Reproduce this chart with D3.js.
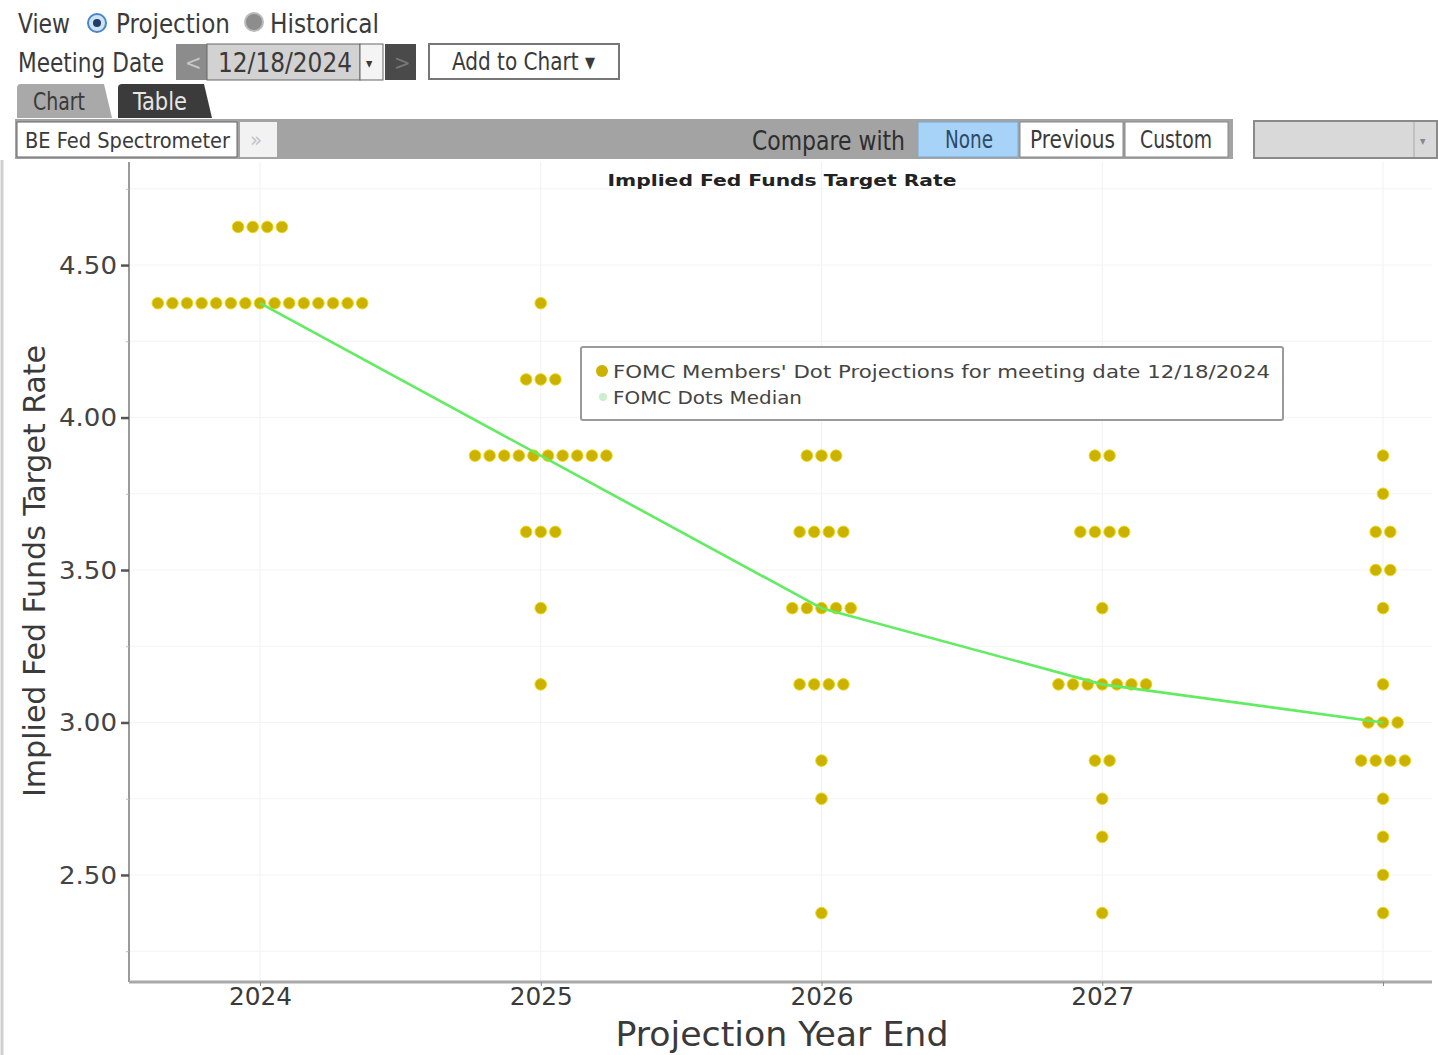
<!DOCTYPE html>
<html><head><meta charset="utf-8">
<script src="https://cdn.jsdelivr.net/npm/d3@7"></script>
<style>
html,body{margin:0;padding:0;background:#fff;}
svg{display:block;}
text{font-family:"DejaVu Sans Condensed","DejaVu Sans",sans-serif;}
</style></head>
<body>
<svg id="c" width="1438" height="1055"></svg>
<script>
// ---------- data ----------
const categories = ["2024", "2025", "2026", "2027", "Longer run"];
const tickLabels = ["2024", "2025", "2026", "2027", ""];
// [rate, number of participants]
const dots2024 = [[4.625, 4], [4.375, 15]];
const dots2025 = [[4.375, 1], [4.125, 3], [3.875, 10], [3.625, 3], [3.375, 1], [3.125, 1]];
const dots2026 = [[3.875, 3], [3.625, 4], [3.375, 5], [3.125, 4], [2.875, 1], [2.75, 1], [2.375, 1]];
const dots2027 = [[3.875, 2], [3.625, 4], [3.375, 1], [3.125, 7], [2.875, 2], [2.75, 1], [2.625, 1], [2.375, 1]];
const dotsLonger = [[3.875, 1], [3.75, 1], [3.625, 2], [3.5, 2], [3.375, 1], [3.125, 1], [3.0, 3], [2.875, 4], [2.75, 1], [2.625, 1], [2.5, 1], [2.375, 1]];
const medians = [4.375, 3.875, 3.375, 3.125, 3.0];
const yTicks = [2.5, 3.0, 3.5, 4.0, 4.5];
const yMinorTicks = [2.25, 2.75, 3.25, 3.75, 4.25, 4.75];
const chartTitle = "Implied Fed Funds Target Rate";
const yTitle = "Implied Fed Funds Target Rate";
const xTitle = "Projection Year End";
const legendLabels = ["FOMC Members' Dot Projections for meeting date 12/18/2024", "FOMC Dots Median"];
const meetingDate = "12/18/2024";

const dotSets = [dots2024, dots2025, dots2026, dots2027, dotsLonger];

// ---------- setup ----------
const svg = d3.select("#c");
const W = 1438, H = 1055;
const plot = {left: 129, right: 1432, top: 162, bottom: 982};
const x = d3.scalePoint().domain(categories).range([260, 1383]);
const y = d3.scaleLinear().domain([2.149, 4.838]).range([plot.bottom, plot.top]);
const textCol = "#3a3a3a";

function txt(g, s, px, py, size, len, opts = {}) {
  const t = g.append("text").attr("x", px).attr("y", py).attr("font-size", size)
    .attr("fill", opts.fill || textCol).text(s);
  if (len) t.attr("textLength", len).attr("lengthAdjust", "spacingAndGlyphs");
  if (opts.anchor) t.attr("text-anchor", opts.anchor);
  if (opts.weight) t.attr("font-weight", opts.weight);
  if (opts.family) t.style("font-family", opts.family);
  return t;
}

// ---------- header UI ----------
const ui = svg.append("g");
txt(ui, "View", 18, 33, 26, 52);
ui.append("circle").attr("cx", 97).attr("cy", 23).attr("r", 9).attr("fill", "#cfe3f5").attr("stroke", "#4a86c5").attr("stroke-width", 2);
ui.append("circle").attr("cx", 97).attr("cy", 23).attr("r", 4).attr("fill", "#1f3f66");
txt(ui, "Projection", 116, 33, 26, 114);
ui.append("circle").attr("cx", 254).attr("cy", 22).attr("r", 9).attr("fill", "#8d8d8d").attr("stroke", "#bbb").attr("stroke-width", 2);
txt(ui, "Historical", 270, 33, 26, 109);

txt(ui, "Meeting Date", 18, 72, 26, 146);
ui.append("rect").attr("x", 176).attr("y", 44).attr("width", 31).attr("height", 36).attr("fill", "#8c8c8c");
txt(ui, "<", 185, 70, 22, null, {fill: "#c8c8c8"});
ui.append("rect").attr("x", 207).attr("y", 44).attr("width", 153).attr("height", 36).attr("fill", "#d2d2d2").attr("stroke", "#666").attr("stroke-width", 1);
txt(ui, meetingDate, 218, 72, 26, 134);
ui.append("rect").attr("x", 360).attr("y", 44).attr("width", 23).attr("height", 36).attr("fill", "#f4f4f4").attr("stroke", "#666").attr("stroke-width", 1);
txt(ui, "▾", 366, 68, 14);
ui.append("rect").attr("x", 385).attr("y", 44).attr("width", 31).attr("height", 36).attr("fill", "#4a4a4a");
txt(ui, ">", 394, 70, 22, null, {fill: "#777"});
ui.append("rect").attr("x", 429).attr("y", 44).attr("width", 190).attr("height", 35).attr("fill", "#fff").attr("stroke", "#777").attr("stroke-width", 2);
txt(ui, "Add to Chart ▾", 452, 70, 24, 143);

// tabs
ui.append("path").attr("d", "M17,118 L17,88 Q17,84 21,84 L104,84 L112,118 Z").attr("fill", "#a9a9a9");
txt(ui, "Chart", 33, 110, 24, 52);
ui.append("path").attr("d", "M118,118 L118,88 Q118,84 122,84 L204,84 L212,118 Z").attr("fill", "#3b3b3b");
txt(ui, "Table", 133, 110, 24, 54, {fill: "#e6e6e6"});

// toolbar
ui.append("rect").attr("x", 15).attr("y", 119).attr("width", 1218).attr("height", 40).attr("fill", "#a3a3a3");
ui.append("rect").attr("x", 17).attr("y", 122).attr("width", 220).attr("height", 35).attr("fill", "#fff").attr("stroke", "#666").attr("stroke-width", 1);
txt(ui, "BE Fed Spectrometer", 25, 148, 22, 205);
ui.append("rect").attr("x", 240).attr("y", 122).attr("width", 37).attr("height", 35).attr("fill", "#f2f2f2");
txt(ui, "»", 250, 147, 22, null, {fill: "#c4c4c4"});
txt(ui, "Compare with", 752, 150, 26, 153, {fill: "#2e2e2e"});
ui.append("rect").attr("x", 918).attr("y", 122).attr("width", 100).attr("height", 35).attr("fill", "#a6d3f7").attr("stroke", "#7fa9cc").attr("stroke-width", 1);
txt(ui, "None", 945, 148, 24, 48, {fill: "#2c4a66"});
ui.append("rect").attr("x", 1020).attr("y", 122).attr("width", 103).attr("height", 35).attr("fill", "#fff").attr("stroke", "#888").attr("stroke-width", 1);
txt(ui, "Previous", 1030, 148, 24, 85);
ui.append("rect").attr("x", 1125).attr("y", 122).attr("width", 103).attr("height", 35).attr("fill", "#fff").attr("stroke", "#888").attr("stroke-width", 1);
txt(ui, "Custom", 1140, 148, 24, 72);
ui.append("rect").attr("x", 1254).attr("y", 121).attr("width", 183).attr("height", 37).attr("fill", "#d9d9d9").attr("stroke", "#8a8a8a").attr("stroke-width", 2);
ui.append("line").attr("x1", 1414).attr("x2", 1414).attr("y1", 122).attr("y2", 157).attr("stroke", "#aaa");
txt(ui, "▾", 1420, 145, 12, null, {fill: "#888"});

// window left border
svg.append("line").attr("x1", 2).attr("x2", 2).attr("y1", 160).attr("y2", H).attr("stroke", "#cfcfcf").attr("stroke-width", 3);

// ---------- plot ----------
const grid = svg.append("g");
grid.selectAll("line.v").data(categories).join("line")
  .attr("x1", d => x(d)).attr("x2", d => x(d)).attr("y1", plot.top).attr("y2", plot.bottom)
  .attr("stroke", "#f1f1f1").attr("stroke-width", 1);
grid.selectAll("line.h").data(yTicks.concat(yMinorTicks)).join("line")
  .attr("x1", plot.left).attr("x2", plot.right).attr("y1", d => y(d)).attr("y2", d => y(d))
  .attr("stroke", "#f4f4f4").attr("stroke-width", 1);

txt(svg, chartTitle, 782, 186, 15, 349, {anchor: "middle", weight: "bold", fill: "#222", family: "'DejaVu Sans', sans-serif"});

// y axis
const yAxis = svg.append("g").attr("transform", `translate(${plot.left},0)`)
  .call(d3.axisLeft(y).tickValues(yTicks).tickFormat(d3.format(".2f")).tickSize(8).tickPadding(4));
yAxis.select(".domain").attr("stroke", "#9a9a9a").attr("stroke-width", 2).attr("d", `M0,${plot.top}V${plot.bottom}`);
yAxis.selectAll(".tick line").attr("stroke", "#555").attr("stroke-width", 2.5);
yAxis.selectAll(".tick text").attr("font-size", 24).attr("fill", "#444")
  .style("font-family", "'DejaVu Sans', sans-serif")
  .attr("textLength", 58).attr("lengthAdjust", "spacingAndGlyphs").attr("dy", "0.35em");
svg.append("g").attr("transform", `translate(${plot.left},0)`)
  .call(d3.axisLeft(y).tickValues(yMinorTicks).tickFormat("").tickSize(3))
  .call(g => g.select(".domain").remove())
  .selectAll(".tick line").attr("stroke", "#bbb");

// x axis
const xAxis = svg.append("g").attr("transform", `translate(0,${plot.bottom})`)
  .call(d3.axisBottom(x).tickFormat((d, i) => tickLabels[i]).tickSize(4).tickPadding(3));
xAxis.select(".domain").attr("stroke", "#a8a8a8").attr("stroke-width", 3).attr("d", `M${plot.left},0H${plot.right}`);
xAxis.selectAll(".tick line").attr("stroke", "#888");
xAxis.selectAll(".tick text").attr("font-size", 25).attr("fill", "#3a3a3a").attr("dy", "0.62em")
  .each(function(d, i) { if (tickLabels[i]) d3.select(this).attr("textLength", 63).attr("lengthAdjust", "spacingAndGlyphs"); });

// axis titles
txt(svg, xTitle, 782, 1046, 33, 333, {anchor: "middle"});
txt(svg, yTitle, 0, 0, 31, 452, {anchor: "middle"}).attr("transform", "translate(45,571) rotate(-90)");

// dots
const spacing = 14.6;
const dotData = [];
dotSets.forEach((set, ci) => {
  set.forEach(([rate, n]) => {
    for (let k = 0; k < n; k++) dotData.push({cat: categories[ci], rate, off: (k - (n - 1) / 2) * spacing});
  });
});
svg.append("g").selectAll("circle").data(dotData).join("circle")
  .attr("cx", d => x(d.cat) + d.off).attr("cy", d => y(d.rate)).attr("r", 5.8)
  .attr("fill", "#cbb200").attr("stroke", "#ecd81a").attr("stroke-width", 1);

// median line
const line = d3.line().x((d, i) => x(categories[i])).y(d => y(d)).curve(d3.curveLinear);
svg.append("path").datum(medians).attr("d", line).attr("fill", "none")
  .attr("stroke", "#62ec62").attr("stroke-width", 2.6).attr("stroke-linejoin", "round");

// legend
const lg = svg.append("g");
lg.append("rect").attr("x", 581).attr("y", 347).attr("width", 702).attr("height", 73).attr("rx", 2)
  .attr("fill", "#fff").attr("stroke", "#9a9a9a").attr("stroke-width", 2);
lg.append("circle").attr("cx", 602).attr("cy", 371).attr("r", 6).attr("fill", "#cbb200");
lg.append("circle").attr("cx", 603).attr("cy", 397).attr("r", 4).attr("fill", "#cdeecd");
txt(lg, legendLabels[0], 613, 378, 17, 657, {fill: "#444", family: "'DejaVu Sans', sans-serif"});
txt(lg, legendLabels[1], 613, 404, 17, 189, {fill: "#444", family: "'DejaVu Sans', sans-serif"});
</script>
</body></html>
